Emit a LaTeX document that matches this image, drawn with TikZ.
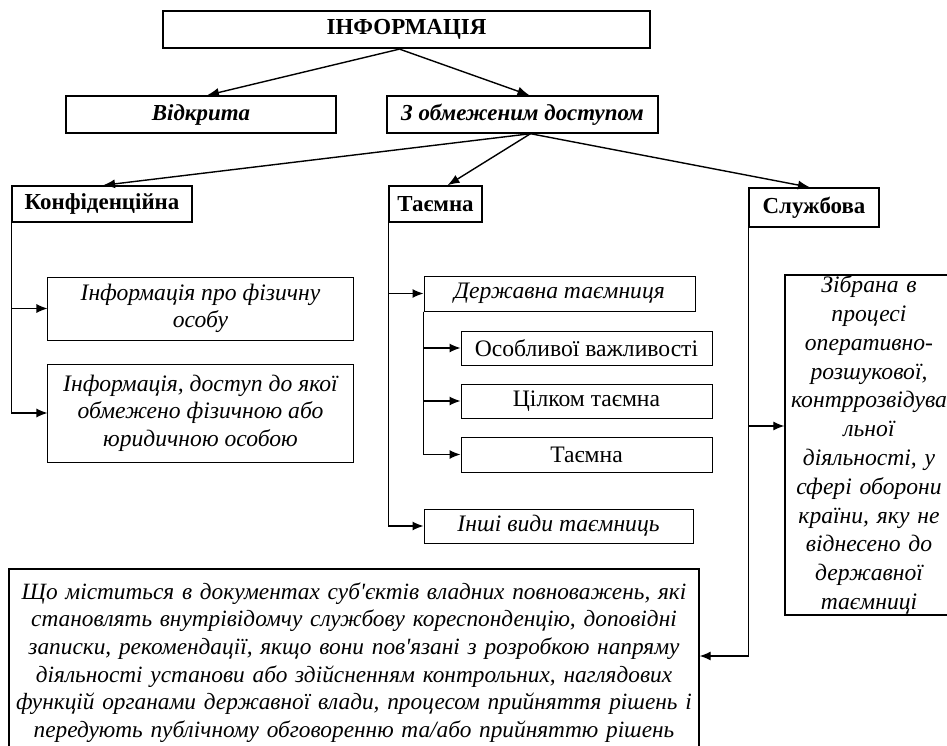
\documentclass[tikz,border=0pt]{standalone}
\usepackage{fontspec}
\setmainfont{Liberation Serif}[Ligatures=TeXOff]
\usetikzlibrary{arrows.meta,shadows}
\tikzset{
  bx/.style={draw, line width=1bp, inner sep=0pt, align=center, fill=white,
    font=\fontsize{23.7}{27.6}\selectfont},
  shad/.style={bx, line width=1.4bp, drop shadow={shadow xshift=1.4bp, shadow yshift=-1.4bp, opacity=1, fill=black}},
  bfnt/.style={font=\fontsize{23}{27.6}\selectfont\bfseries},
  bifnt/.style={font=\fontsize{23}{27.6}\selectfont\bfseries\itshape},
  ifnt/.style={font=\fontsize{23.7}{27.6}\selectfont\itshape},
  arr/.style={line width=1.4bp, -{Latex[length=12bp,width=9bp]}},
  sarr/.style={line width=1.2bp, -{Latex[length=11bp,width=9bp]}}
}
\begin{document}
\begin{tikzpicture}[x=1bp,y=-1bp]
\useasboundingbox (0,0) rectangle (947,746);
% level 0
\node[shad, line width=2.2bp, bfnt, minimum width=487bp, minimum height=37bp] (info) at (406.5,29.5) {ІНФОРМАЦІЯ};
% level 1
\node[shad, bifnt, minimum width=270bp, minimum height=37bp] (vidk) at (201,114.5) {Відкрита};
\node[shad, bifnt, minimum width=271bp, minimum height=37bp] (obm) at (522.5,114.5) {З обмеженим доступом};
% level 2
\node[shad, bfnt, minimum width=180bp, minimum height=36bp] (konf) at (102,204) {Конфіденційна};
\node[shad, bfnt, minimum width=93bp, minimum height=36bp] (taem) at (435.5,204) {Таємна};
\node[shad, bfnt, minimum width=130bp, minimum height=39bp] (sluzh) at (814,207.5) {Службова};
% left branch
\node[bx, ifnt, minimum width=305bp, minimum height=63bp] (b1) at (200.5,308.5) {Інформація про фізичну\\ особу};
\node[bx, ifnt, minimum width=305bp, minimum height=98bp] (b2) at (200.5,413) {Інформація, доступ до якої\\ обмежено фізичною або\\ юридичною особою};
% middle branch
\node[bx, ifnt, minimum width=271bp, minimum height=35bp] (derzh) at (559.5,293.5) {Державна таємниця};
\node[bx, minimum width=251bp, minimum height=34bp] (osob) at (586.5,348) {Особливої важливості};
\node[bx, minimum width=251bp, minimum height=34bp] (tsil) at (586.5,401) {Цілком таємна};
\node[bx, minimum width=251bp, minimum height=35bp] (taem2) at (586.5,454.5) {Таємна};
\node[bx, ifnt, minimum width=269bp, minimum height=34bp] (inshi) at (558.5,526) {Інші види таємниць};
% right branch
\node[bx, line width=1.3bp, font=\fontsize{23.7}{28.9}\selectfont\itshape, text width=168bp, minimum height=340bp] (zib) at (869,445) {Зібрана в\\ процесі\\ оперативно-\\ розшукової,\\ контррозвідува\\ льної\\ діяльності, у\\ сфері оборони\\ країни, яку не\\ віднесено до\\ державної\\ таємниці};
\node[bx, line width=1.3bp, font=\fontsize{23.4}{27.8}\selectfont\itshape, text width=690bp, minimum height=187bp] (bot) at (354,662.5) {Що міститься в документах суб'єктів владних повноважень, які\\ становлять внутрівідомчу службову кореспонденцію, доповідні\\ записки, рекомендації, якщо вони пов'язані з розробкою напряму\\ діяльності установи або здійсненням контрольних, наглядових\\ \mbox{функцій органами державної влади, процесом прийняття рішень і}\\ передують публічному обговоренню та/або прийняттю рішень};
% connectors
\draw[arr] ([xshift=-7bp]info.south) -- ([xshift=6bp]vidk.north);
\draw[arr] ([xshift=-7bp]info.south) -- ([xshift=7bp]obm.north);
\draw[arr] ([xshift=8bp]obm.south) -- ([xshift=1bp]konf.north);
\draw[arr] ([xshift=8bp]obm.south) -- ([xshift=12bp]taem.north);
\draw[arr] ([xshift=8bp]obm.south) -- ([xshift=-4bp]sluzh.north);
\draw[sarr] (konf.south west) |- (b1.west);
\draw[sarr] (konf.south west) |- (b2.west);
\draw[sarr] (taem.south west) |- (derzh.west);
\draw[sarr] (taem.south west) |- (inshi.west);
\draw[sarr] (derzh.south west) |- (osob.west);
\draw[sarr] (derzh.south west) |- (tsil.west);
\draw[sarr] (derzh.south west) |- (taem2.west);
\draw[sarr] (sluzh.south west) |- ([yshift=19bp]zib.west);
\draw[sarr] (sluzh.south west) |- ([yshift=6.5bp]bot.east);
\end{tikzpicture}
\end{document}
